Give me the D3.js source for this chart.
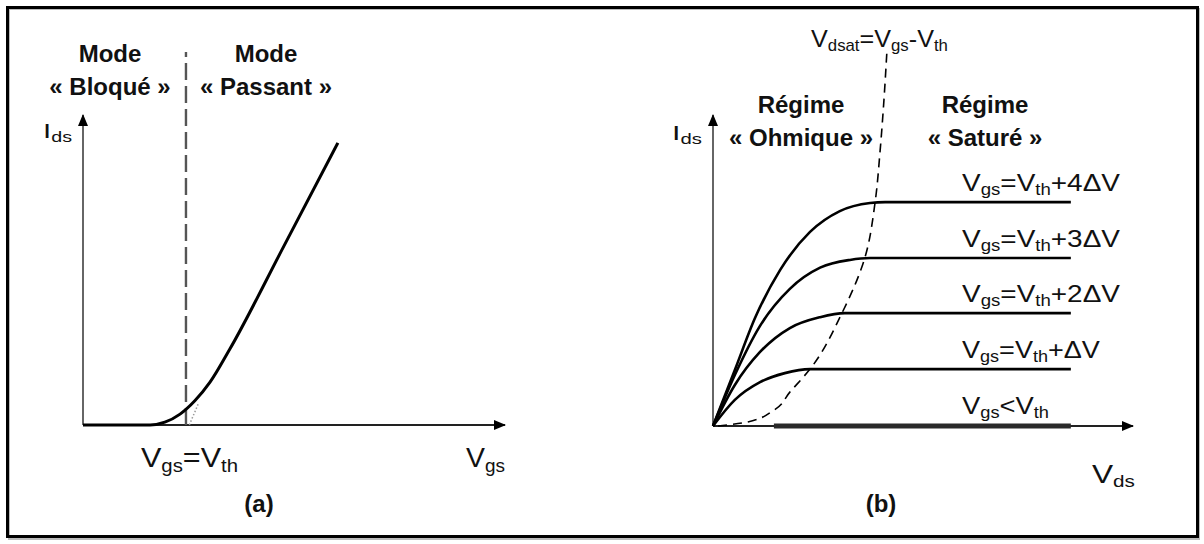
<!DOCTYPE html>
<html>
<head>
<meta charset="utf-8">
<script src="https://cdn.jsdelivr.net/npm/d3@7"></script>
<style>
  body { margin: 0; background: #fff; }
  text { font-family: "Liberation Sans", Arial, sans-serif; fill: #111; }
</style>
</head>
<body>
<div id="vis"></div>
<script>
// (a) Ids en fonction de Vgs
var vth = 2.44;
var transferVgs = [0, 1.59, 1.94, 2.30, 2.65, 3.01, 3.48, 4.76, 6.04];
var transferIds = [0, 0, 0.09, 0.35, 0.78, 1.38, 2.45, 5.77, 9.10];
var extrapVgs = [2.52, 2.73];
var extrapIds = [0, 0.68];

// (b) Ids en fonction de Vds
var curveLabels = ["+4\u0394V", "+3\u0394V", "+2\u0394V", "+\u0394V"];
var levelVds = [
  [0, 0.52, 1.00, 1.60, 2.31, 3.02, 3.74, 4.10, 8.52],
  [0, 0.52, 1.12, 1.83, 2.55, 3.26, 3.74, 8.52],
  [0, 0.52, 1.12, 1.83, 2.55, 3.14, 8.52],
  [0, 0.52, 1.12, 1.71, 2.31, 8.52]
];
var levelIds = [
  [0, 1.80, 3.47, 5.02, 6.24, 6.91, 7.17, 7.20, 7.20],
  [0, 1.64, 3.22, 4.41, 5.09, 5.34, 5.40, 5.40],
  [0, 1.32, 2.38, 3.15, 3.50, 3.63, 3.63],
  [0, 0.84, 1.41, 1.70, 1.83, 1.83]
];
var offVds = [1.45, 8.52];
var offIds = [0, 0];
var dsatVds = [0.12, 0.83, 1.45, 1.83, 2.31, 3.07, 3.62, 3.86, 3.98, 4.07, 4.14];
var dsatIds = [0, 0.13, 0.51, 1.09, 1.83, 3.63, 5.43, 7.20, 8.87, 10.48, 12.03];

var width = 1204, height = 544;

var svg = d3.select("#vis").append("svg")
    .attr("width", width)
    .attr("height", height);

svg.append("rect").attr("width", width).attr("height", height).style("fill", "white");

// cadre
svg.append("rect")
    .attr("x", 9).attr("y", 9)
    .attr("width", 1190).attr("height", 530)
    .style("fill", "none")
    .style("stroke", "#bbb")
    .style("stroke-width", 2);
svg.append("rect")
    .attr("x", 7.5).attr("y", 7.5)
    .attr("width", 1190).attr("height", 529)
    .style("fill", "none")
    .style("stroke", "#000")
    .style("stroke-width", 3);

var defs = svg.append("defs");
defs.append("marker")
    .attr("id", "arrow")
    .attr("viewBox", "0 0 12 10")
    .attr("refX", 11).attr("refY", 5)
    .attr("markerWidth", 12).attr("markerHeight", 10)
    .attr("markerUnits", "userSpaceOnUse")
    .attr("orient", "auto")
  .append("path")
    .attr("d", "M0,0 L12,5 L0,10 Z")
    .style("fill", "#000");

function zip(xs, ys) {
  return xs.map(function(x, i) { return [x, ys[i]]; });
}

// texte avec indices, étiré à la largeur voulue
function label(g, x, y, parts, size, w) {
  var sub = Math.round(size * 0.66);
  var holder = g.append("g").attr("transform", "translate(" + x + "," + y + ")");
  var t = holder.append("text").style("font-size", size + "px");
  parts.forEach(function(p) {
    if (p.sub) {
      t.append("tspan").attr("dy", size * 0.17).style("font-size", sub + "px").text(p.sub);
      t.append("tspan").attr("dy", -size * 0.17).text("\u200b");
    } else {
      t.append("tspan").text(p.t);
    }
  });
  var bw = t.node().getBBox().width;
  if (w && bw > 0) t.attr("transform", "scale(" + (w / bw) + ",1)");
  return t;
}

function bold(g, x, y, lines) {
  lines.forEach(function(s, i) {
    g.append("text")
        .attr("x", x).attr("y", y + i * 33)
        .attr("text-anchor", "middle")
        .style("font-size", "24px")
        .style("font-weight", "bold")
        .text(s);
  });
}

/* ---------- (a) ---------- */
var xA = d3.scaleLinear().domain([0, 10]).range([83, 505]);
var yA = d3.scaleLinear().domain([0, 10]).range([425, 115]);
var gA = svg.append("g");
var lineA = d3.line().x(function(d) { return xA(d[0]); }).y(function(d) { return yA(d[1]); });

// axes
gA.append("line")
    .attr("x1", xA(0)).attr("y1", yA(0))
    .attr("x2", xA(0)).attr("y2", yA(10))
    .style("stroke", "#666").style("stroke-width", 2)
    .attr("marker-end", "url(#arrow)");
gA.append("line")
    .attr("x1", xA(0)).attr("y1", yA(0))
    .attr("x2", xA(10)).attr("y2", yA(0))
    .style("stroke", "#222").style("stroke-width", 2)
    .attr("marker-end", "url(#arrow)");

// seuil
gA.append("line")
    .attr("x1", xA(vth)).attr("y1", yA(0))
    .attr("x2", xA(vth)).attr("y2", yA(12.03))
    .style("stroke", "#555").style("stroke-width", 2.4)
    .style("stroke-dasharray", "17,6");

gA.append("path")
    .datum(zip(extrapVgs, extrapIds))
    .attr("d", lineA)
    .style("fill", "none").style("stroke", "#999").style("stroke-width", 1.5)
    .style("stroke-dasharray", "1.5,2");

gA.append("path")
    .datum(zip(transferVgs, transferIds))
    .attr("d", lineA.curve(d3.curveMonotoneX))
    .style("fill", "none").style("stroke", "#000").style("stroke-width", 3);

bold(gA, 110, 62, ["Mode", "\u00ab Bloqu\u00e9 \u00bb"]);
bold(gA, 266, 62, ["Mode", "\u00ab Passant \u00bb"]);

label(gA, 43, 138, [{t: "I"}, {sub: "ds"}], 21, 29);
label(gA, 141, 467, [{t: "V"}, {sub: "gs"}, {t: "=V"}, {sub: "th"}], 27, 97);
label(gA, 466, 467, [{t: "V"}, {sub: "gs"}], 27, 39);
gA.append("text").attr("x", 259).attr("y", 512).attr("text-anchor", "middle")
    .style("font-size", "24px").style("font-weight", "bold").text("(a)");

/* ---------- (b) ---------- */
var xB = d3.scaleLinear().domain([0, 10]).range([713, 1133]);
var yB = d3.scaleLinear().domain([0, 10]).range([426, 115]);
var gB = svg.append("g");
var lineB = d3.line().x(function(d) { return xB(d[0]); }).y(function(d) { return yB(d[1]); });

gB.append("line")
    .attr("x1", xB(0)).attr("y1", yB(0))
    .attr("x2", xB(0)).attr("y2", yB(10))
    .style("stroke", "#666").style("stroke-width", 2)
    .attr("marker-end", "url(#arrow)");
gB.append("line")
    .attr("x1", xB(0)).attr("y1", yB(0))
    .attr("x2", xB(10)).attr("y2", yB(0))
    .style("stroke", "#222").style("stroke-width", 2)
    .attr("marker-end", "url(#arrow)");

gB.append("path")
    .datum(zip(offVds, offIds))
    .attr("d", lineB)
    .style("fill", "none").style("stroke", "#2a2a2a").style("stroke-width", 5);

levelVds.forEach(function(vds, i) {
  gB.append("path")
      .datum(zip(vds, levelIds[i]))
      .attr("d", d3.line().curve(d3.curveMonotoneX)
        .x(function(d) { return xB(d[0]); }).y(function(d) { return yB(d[1]); }))
      .style("fill", "none").style("stroke", "#000").style("stroke-width", 2.6);

  label(gB, 962, yB(levelIds[i][levelIds[i].length - 1]) - 11,
    [{t: "V"}, {sub: "gs"}, {t: "=V"}, {sub: "th"}, {t: curveLabels[i]}], 24, i === 3 ? 138 : 158);
});
label(gB, 962, yB(0) - 12, [{t: "V"}, {sub: "gs"}, {t: "<V"}, {sub: "th"}], 24, 87);

gB.append("path")
    .datum(zip(dsatVds, dsatIds))
    .attr("d", d3.line().curve(d3.curveMonotoneY)
      .x(function(d) { return xB(d[0]); }).y(function(d) { return yB(d[1]); }))
    .style("fill", "none").style("stroke", "#000").style("stroke-width", 1.6)
    .style("stroke-dasharray", "9,6");

bold(gB, 801, 113, ["R\u00e9gime", "\u00ab Ohmique \u00bb"]);
bold(gB, 985, 113, ["R\u00e9gime", "\u00ab Satur\u00e9 \u00bb"]);

label(gB, 672, 140, [{t: "I"}, {sub: "ds"}], 21, 30);
label(gB, 811, 47, [{t: "V"}, {sub: "dsat"}, {t: "=V"}, {sub: "gs"}, {t: "-V"}, {sub: "th"}], 24, 137);
label(gB, 1092, 483, [{t: "V"}, {sub: "ds"}], 26, 43);
gB.append("text").attr("x", 881).attr("y", 512).attr("text-anchor", "middle")
    .style("font-size", "24px").style("font-weight", "bold").text("(b)");
</script>
</body>
</html>
